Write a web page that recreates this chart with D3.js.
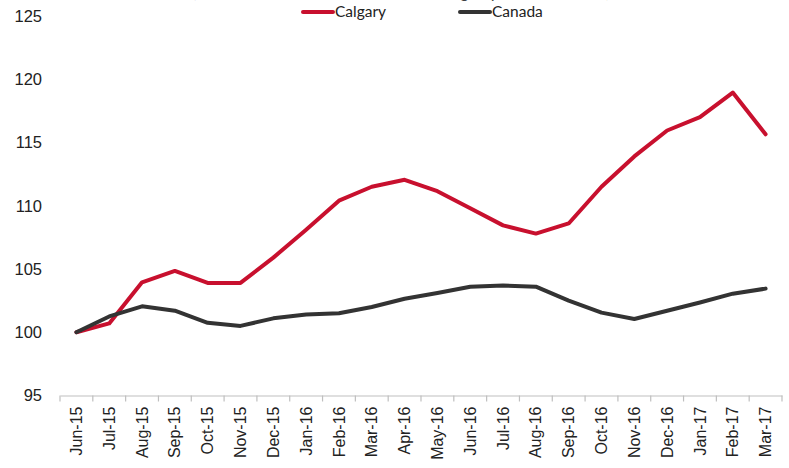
<!DOCTYPE html>
<html>
<head>
<meta charset="utf-8">
<script src="https://cdn.jsdelivr.net/npm/d3@7"></script>
<style>
  html, body { margin: 0; padding: 0; background: #fff; }
  svg { display: block; font-family: Lato, "Open Sans", sans-serif; }
</style>
</head>
<body>
<div id="chart"></div>
<script>
const months = ["Jun-15", "Jul-15", "Aug-15", "Sep-15", "Oct-15", "Nov-15", "Dec-15",
  "Jan-16", "Feb-16", "Mar-16", "Apr-16", "May-16", "Jun-16", "Jul-16", "Aug-16",
  "Sep-16", "Oct-16", "Nov-16", "Dec-16", "Jan-17", "Feb-17", "Mar-17"];

const calgary = [100, 100.7, 103.95, 104.85, 103.9, 103.9, 105.9, 108.1, 110.4, 111.5, 112.05,
  111.15, 109.8, 108.45, 107.8, 108.6, 111.5, 113.9, 115.95, 117.0, 118.95, 115.65];

const canada = [100, 101.25, 102.05, 101.7, 100.75, 100.5, 101.1, 101.4, 101.5, 102.0, 102.65,
  103.1, 103.6, 103.7, 103.6, 102.5, 101.55, 101.05, 101.7, 102.35, 103.05, 103.45];

const yTicks = [95, 100, 105, 110, 115, 120, 125];

const seriesList = [
  { name: "Calgary", values: calgary, color: "#C8102E" },
  { name: "Canada", values: canada, color: "#333333" }
];

const width = 789, height = 468;
const margin = { top: 16, right: 7, bottom: 72, left: 60 };

const svg = d3.select("#chart").append("svg")
  .attr("width", width)
  .attr("height", height);

// title sits mostly above the top edge, as in the reference
svg.append("text")
  .attr("x", 401)
  .attr("y", -2)
  .attr("text-anchor", "middle")
  .attr("font-size", 16)
  .attr("fill", "#404040")
  .attr("textLength", 418)
  .text("(Index, June 2015 = 100, Calgary vs. Canada)");

const x = d3.scaleBand()
  .domain(months)
  .range([margin.left, width - margin.right]);

const y = d3.scaleLinear()
  .domain([95, 125])
  .range([395.5, margin.top]);

// x axis
const xAxis = svg.append("g")
  .attr("transform", `translate(0,${y(95)})`)
  .call(d3.axisBottom(x).tickSize(0));
xAxis.select(".domain").attr("stroke", "#bfbfbf").attr("stroke-width", 1.2);
xAxis.selectAll(".tick text")
  .attr("font-size", 16)
  .attr("fill", "#222")
  .attr("transform", "rotate(-90)")
  .attr("text-anchor", "end")
  .attr("x", -11)
  .attr("y", 0)
  .attr("dy", "0.35em");

// boundary ticks between categories
const bounds = months.map(m => x(m)).concat([x(months[months.length - 1]) + x.bandwidth()]);
svg.append("g")
  .selectAll("line")
  .data(bounds)
  .join("line")
  .attr("x1", d => d).attr("x2", d => d)
  .attr("y1", y(95)).attr("y2", y(95) + 6)
  .attr("stroke", "#bfbfbf")
  .attr("stroke-width", 1.2);

// y axis labels
const yAxis = svg.append("g")
  .attr("transform", `translate(${margin.left},0)`)
  .call(d3.axisLeft(y).tickValues(yTicks).tickSize(0).tickPadding(18));
yAxis.select(".domain").remove();
yAxis.selectAll(".tick text")
  .attr("font-size", 16.5)
  .attr("fill", "#222");

// lines
const line = d3.line()
  .x((d, i) => x(months[i]) + x.bandwidth() / 2)
  .y(d => y(d));

svg.append("g")
  .selectAll("path")
  .data(seriesList)
  .join("path")
  .attr("fill", "none")
  .attr("stroke", d => d.color)
  .attr("stroke-width", 4)
  .attr("stroke-linejoin", "round")
  .attr("stroke-linecap", "round")
  .attr("d", d => line(d.values));

// legend
const legend = svg.append("g")
  .selectAll("g")
  .data(seriesList)
  .join("g")
  .attr("transform", (d, i) => `translate(${303 + i * 157},12)`);
legend.append("line")
  .attr("x1", 0).attr("x2", 30)
  .attr("stroke", d => d.color)
  .attr("stroke-width", 4)
  .attr("stroke-linecap", "round");
legend.append("text")
  .attr("x", 32)
  .attr("dy", "0.35em")
  .attr("font-size", 15.5)
  .attr("fill", "#222")
  .text(d => d.name);
</script>
</body>
</html>
